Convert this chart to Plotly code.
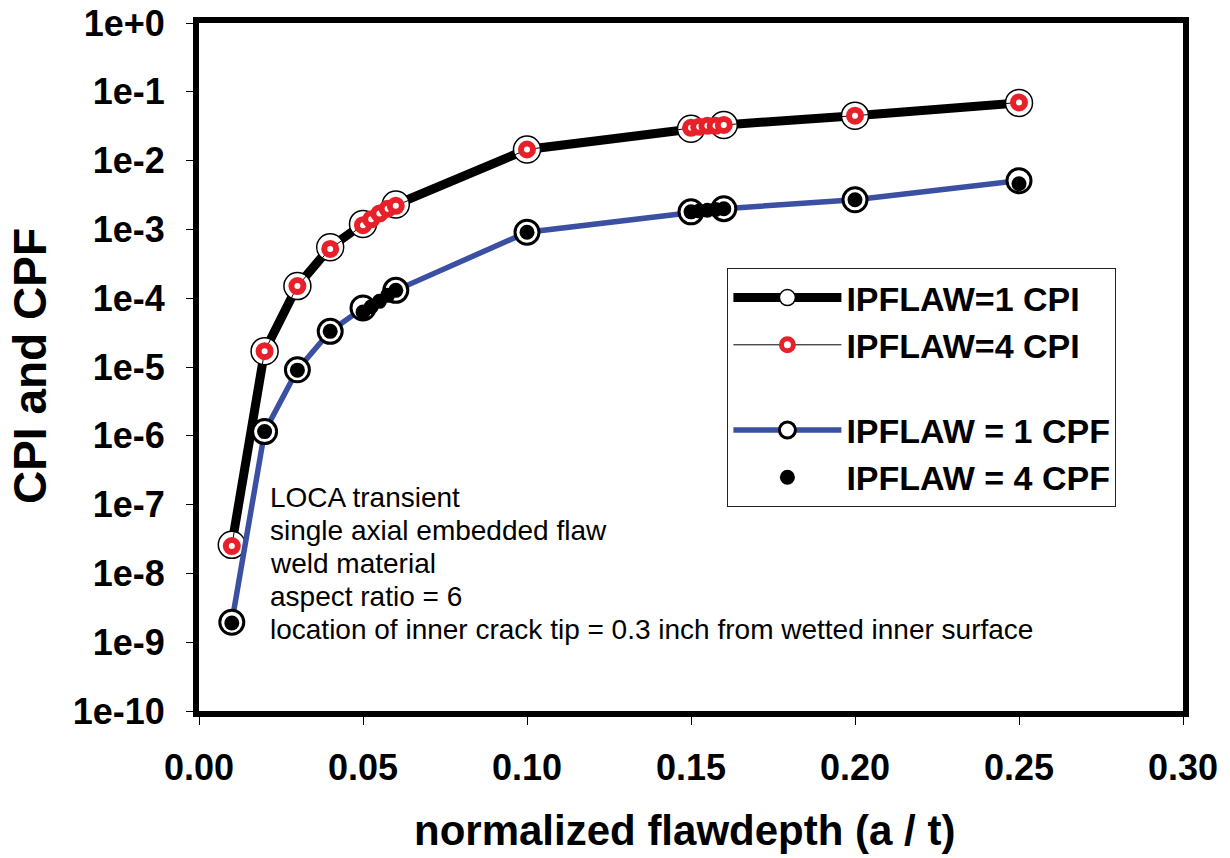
import plotly.graph_objects as go

# ---- data ----
x_ip1 = [0.01, 0.02, 0.03, 0.04, 0.05, 0.06, 0.10, 0.15, 0.16, 0.20, 0.25]
cpi_ip1 = [2.6e-8, 1.7e-5, 1.5e-4, 5.5e-4, 1.2e-3, 2.3e-3, 1.45e-2, 2.9e-2, 3.3e-2, 4.5e-2, 6.9e-2]
cpf_ip1 = [1.95e-9, 1.15e-6, 9.1e-6, 3.3e-5, 7.2e-5, 1.3e-4, 9.1e-4, 1.8e-3, 2.0e-3, 2.7e-3, 5.1e-3]

x_ip4 = [0.01, 0.02, 0.03, 0.04, 0.05, 0.0525, 0.055, 0.0575, 0.06, 0.10,
         0.15, 0.1525, 0.155, 0.1575, 0.16, 0.20, 0.25]
cpi_ip4 = [2.5e-8, 1.7e-5, 1.5e-4, 5.2e-4, 1.15e-3, 1.4e-3, 1.7e-3, 2.0e-3, 2.2e-3, 1.45e-2,
           3.0e-2, 3.1e-2, 3.2e-2, 3.2e-2, 3.3e-2, 4.5e-2, 7.0e-2]
cpf_ip4 = [1.9e-9, 1.15e-6, 9.0e-6, 3.3e-5, 6.3e-5, 7.5e-5, 9.0e-5, 1.1e-4, 1.3e-4, 9.1e-4,
           1.8e-3, 1.85e-3, 1.9e-3, 1.95e-3, 2.0e-3, 2.7e-3, 4.6e-3]

x_ticks = [0.00, 0.05, 0.10, 0.15, 0.20, 0.25, 0.30]
x_ticklabels = ["0.00", "0.05", "0.10", "0.15", "0.20", "0.25", "0.30"]
y_ticks = [1e0, 1e-1, 1e-2, 1e-3, 1e-4, 1e-5, 1e-6, 1e-7, 1e-8, 1e-9, 1e-10]
y_ticklabels = ["1e+0", "1e-1", "1e-2", "1e-3", "1e-4", "1e-5", "1e-6", "1e-7", "1e-8", "1e-9", "1e-10"]

names = ["IPFLAW=1 CPI", "IPFLAW=4 CPI", "IPFLAW = 1 CPF", "IPFLAW = 4 CPF"]
note_lines = ["LOCA transient", "single axial embedded flaw", "weld material",
              "aspect ratio = 6",
              "location of inner crack tip = 0.3 inch from wetted inner surface"]

FONT = "Arial, Liberation Sans, sans-serif"
BLUE = "#3b4fa3"
RED = "#e8202a"

fig = go.Figure()
fig.add_trace(go.Scatter(
    x=x_ip1, y=cpi_ip1, name=names[0], mode="lines+markers", legendgroup="cpi",
    line=dict(color="black", width=9),
    marker=dict(size=27, color="white", line=dict(color="black", width=1.5)),
))
fig.add_trace(go.Scatter(
    x=x_ip4, y=cpi_ip4, name=names[1], mode="lines+markers", legendgroup="cpi",
    line=dict(color="black", width=1),
    marker=dict(size=12, color="white", line=dict(color=RED, width=6)),
))
fig.add_trace(go.Scatter(
    x=x_ip1, y=cpf_ip1, name=names[2], mode="lines+markers", legendgroup="cpf",
    line=dict(color=BLUE, width=5.5),
    marker=dict(size=24, color="white", line=dict(color="black", width=3)),
))
fig.add_trace(go.Scatter(
    x=x_ip4, y=cpf_ip4, name=names[3], mode="markers", legendgroup="cpf",
    marker=dict(size=15, color="black"),
))

# note text, one line per annotation (33 px line pitch)
plot_top, plot_h = 23, 688
for i, line in enumerate(note_lines):
    ypix = 497 + 33 * i
    fig.add_annotation(
        text=line, xref="paper", yref="paper",
        x=0.070, y=1 - (ypix - plot_top) / plot_h, xanchor="left", yanchor="middle",
        align="left", showarrow=False,
        font=dict(family=FONT, size=28, color="black"),
    )

fig.add_annotation(
    text="CPI and CPF", xref="paper", yref="paper", textangle=-90,
    x=-0.171, y=0.501, xanchor="center", yanchor="middle", showarrow=False,
    font=dict(family=FONT, size=46, color="black", weight="bold"),
)
fig.add_annotation(
    text="normalized flawdepth (a / t)", xref="paper", yref="paper",
    x=0.4934, y=1 - (830 - plot_top) / plot_h, xanchor="center", yanchor="middle",
    showarrow=False,
    font=dict(family=FONT, size=42, color="black", weight="bold"),
)

fig.update_layout(
    width=1230, height=858,
    margin=dict(l=199, r=47, t=plot_top, b=858 - plot_top - plot_h, autoexpand=False),
    paper_bgcolor="white", plot_bgcolor="white",
    font=dict(family=FONT, color="black"),
    showlegend=True,
    legend=dict(
        x=0.537, y=1 - (268 - plot_top) / plot_h, xanchor="left", yanchor="top",
        bgcolor="white", bordercolor="#222222", borderwidth=1,
        font=dict(family=FONT, size=34, color="black", weight="bold"),
        itemwidth=108, tracegroupgap=38, traceorder="grouped",
    ),
    xaxis=dict(
        range=[0, 0.30], tickvals=x_ticks, ticktext=x_ticklabels,
        showgrid=False, zeroline=False, automargin=False,
        showline=True, linecolor="black", linewidth=6, mirror=True,
        ticks="outside", ticklen=8, tickwidth=1, tickcolor="black",
        ticklabelstandoff=12,
        tickfont=dict(family=FONT, size=36, color="black", weight="bold"),
    ),
    yaxis=dict(
        type="log", range=[-10, 0], tickvals=y_ticks, ticktext=y_ticklabels,
        showgrid=False, zeroline=False, automargin=False,
        showline=True, linecolor="black", linewidth=6, mirror=True,
        ticks="outside", ticklen=7, tickwidth=1, tickcolor="black",
        ticklabelstandoff=14,
        tickfont=dict(family=FONT, size=36, color="black", weight="bold"),
    ),
)

fig.write_html("out.html")
